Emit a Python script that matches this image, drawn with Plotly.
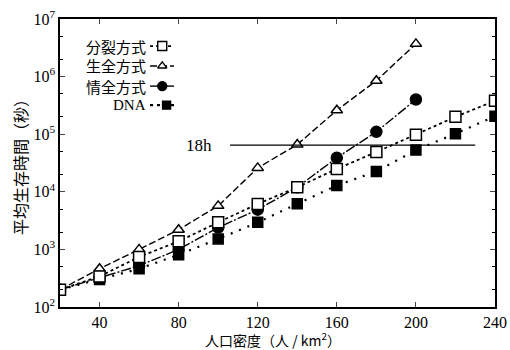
import plotly.graph_objects as go

density = [20, 40, 60, 80, 100, 120, 140, 160, 180, 200, 220, 240]
bunretsu = [200, 340, 740, 1380, 2950, 6150, 12000, 25000, 49000, 98000, 200000, 380000]
x_short = [20, 40, 60, 80, 100, 120, 140, 160, 180, 200]
seizen = [200, 460, 1000, 2200, 5700, 26000, 66000, 260000, 850000, 3700000]
jouzen = [200, 320, 520, 1000, 2400, 4900, 12000, 39000, 110000, 400000]
dna = [200, 300, 460, 810, 1520, 2950, 6200, 12900, 22500, 53000, 102000, 205000]

names = ["分裂方式", "生全方式", "情全方式", "DNA"]
threshold_s = 64800  # 18h
threshold_x = [106, 230]

SERIF = "Liberation Serif"
CJK = "Noto Sans CJK JP"

styles = [
    dict(dash="dot", width=1.8, symbol="square", fill="white", size=11),
    dict(dash="7px,3px", width=1.4, symbol="triangle-up", fill="white", size=10),
    dict(dash="10px,2px,2px,2px", width=1.4, symbol="circle", fill="black", size=11),
    dict(dash="2px,7px", width=2.2, symbol="square", fill="black", size=10),
]
series = [(density, bunretsu), (x_short, seizen), (x_short, jouzen), (density, dna)]

fig = go.Figure()
order = [3, 2, 1, 0]
for i in order:
    xs, ys = series[i]
    st = styles[i]
    fig.add_trace(go.Scatter(
        x=xs, y=ys, mode="lines+markers", name=names[i], showlegend=False,
        line=dict(color="black", width=st["width"], dash=st["dash"]),
        marker=dict(symbol=st["symbol"], size=st["size"], color=st["fill"],
                    line=dict(color="black", width=1.5)),
    ))

# 18h line
fig.add_trace(go.Scatter(x=threshold_x, y=[threshold_s, threshold_s], mode="lines",
                         line=dict(color="black", width=1.3), showlegend=False, hoverinfo="skip"))

# custom legend (symbol on the right of text) on an overlay axis in [0,1]
leg_y = [0.906, 0.837, 0.767, 0.701]
seg = [0.207, 0.262]
mid = 0.235
for i in range(4):
    st = styles[i]
    fig.add_trace(go.Scatter(x=seg, y=[leg_y[i]] * 2, mode="lines", xaxis="x2", yaxis="y2",
                             line=dict(color="black", width=st["width"],
                                       dash="solid" if i == 2 else ("3px,4px" if i == 3 else st["dash"])),
                             showlegend=False, hoverinfo="skip"))
    fig.add_trace(go.Scatter(x=[mid + (0.01 if i == 3 else 0)], y=[leg_y[i]], mode="markers", xaxis="x2", yaxis="y2",
                             marker=dict(symbol=st["symbol"], size=st["size"] - 2, color=st["fill"],
                                         line=dict(color="black", width=1.4)),
                             showlegend=False, hoverinfo="skip"))
    fig.add_annotation(x=0.203, y=leg_y[i], xref="x2", yref="y2", text=names[i], showarrow=False,
                       xanchor="right", yanchor="middle",
                       font=dict(family=SERIF if names[i] == "DNA" else CJK, size=15, color="black"))

fig.add_annotation(x=100, y=4.812, xref="x", yref="y", text="18h", showarrow=False,
                   xanchor="right", yanchor="middle", xshift=-4,
                   font=dict(family=SERIF, size=17, color="black"))

# x-axis title as annotation placed below tick labels
fig.add_annotation(x=0.49, y=-0.112, xref="paper", yref="paper", text="人口密度（人 / km<sup>2</sup>）",
                   showarrow=False, xanchor="center", yanchor="middle",
                   font=dict(family=CJK, size=14, color="black"))

yt = [10 ** k for k in range(2, 8)]
ytt = [f"10<sup>{k}</sup>" for k in range(2, 8)]

fig.update_layout(
    width=510, height=350,
    margin=dict(l=60, r=15, t=19, b=43),
    paper_bgcolor="white", plot_bgcolor="white",
    font=dict(family=SERIF, size=17, color="black"),
    xaxis=dict(range=[20, 240], tickvals=[40, 80, 120, 160, 200, 240], ticks="inside", ticklen=5,
               showline=True, linecolor="black", linewidth=1.5, mirror="ticks", showgrid=False,
               zeroline=False, tickfont=dict(family=SERIF, size=16, color="black"), automargin=False),
    yaxis=dict(type="log", range=[2, 7], tickvals=yt, ticktext=ytt, ticks="inside", ticklen=5,
               showline=True, linecolor="black", linewidth=1.5, mirror="ticks", showgrid=False,
               zeroline=False, tickfont=dict(family=SERIF, size=16, color="black"), automargin=False,
               minor=dict(ticks="inside", ticklen=3, tickcolor="black", showgrid=False),
               title=dict(text="平均生存時間（秒）", font=dict(family=CJK, size=16, color="black"), standoff=2)),
    xaxis2=dict(range=[0, 1], overlaying="x", visible=False, fixedrange=True),
    yaxis2=dict(range=[0, 1], overlaying="y", visible=False, fixedrange=True),
)

fig.write_html("out.html")
